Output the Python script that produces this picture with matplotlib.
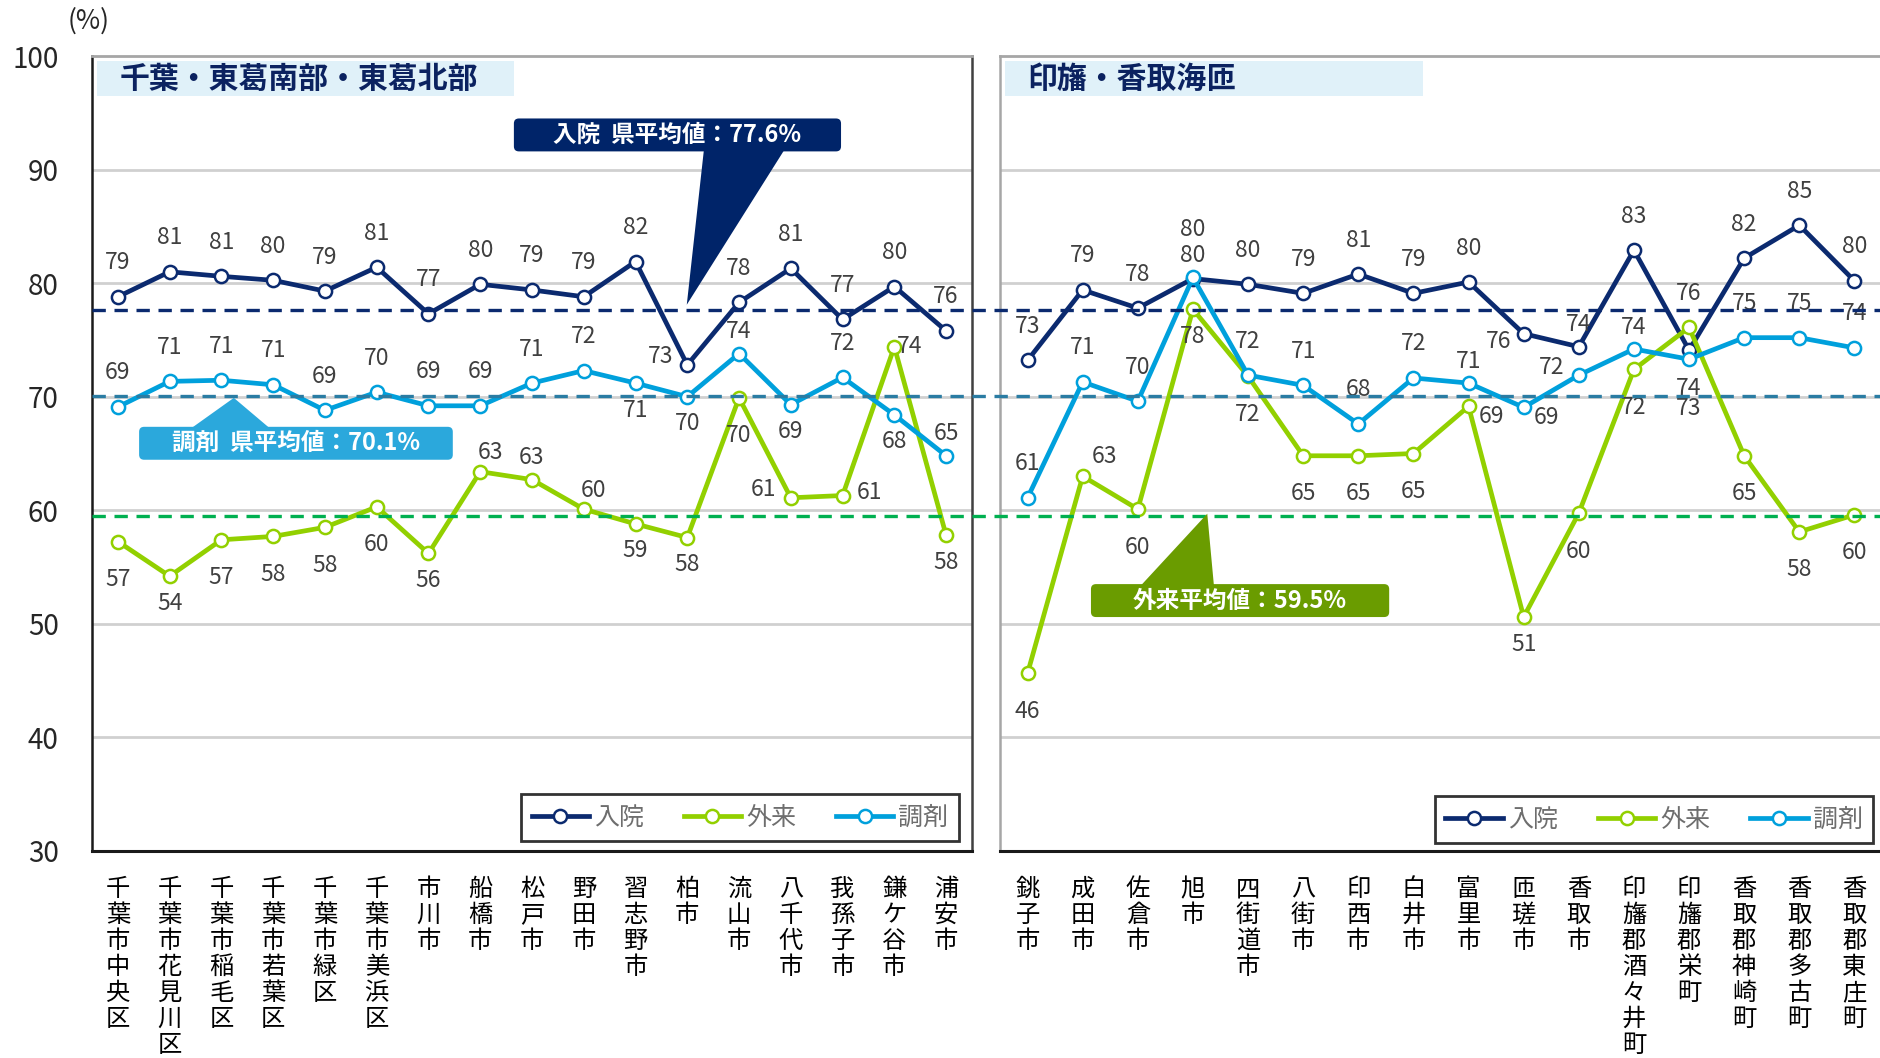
import matplotlib
matplotlib.use('Agg')
import matplotlib.pyplot as plt
from matplotlib.patches import FancyBboxPatch, Polygon, Rectangle
from matplotlib.lines import Line2D
import matplotlib.transforms as mtrans

plt.rcParams['font.family'] = ['Noto Sans CJK JP', 'DejaVu Sans']

# ---------------- data ----------------
left_title = '千葉・東葛南部・東葛北部'
right_title = '印旛・香取海匝'

left_cats = ['千葉市中央区', '千葉市花見川区', '千葉市稲毛区', '千葉市若葉区', '千葉市緑区',
             '千葉市美浜区', '市川市', '船橋市', '松戸市', '野田市', '習志野市', '柏市',
             '流山市', '八千代市', '我孫子市', '鎌ケ谷市', '浦安市']
right_cats = ['銚子市', '成田市', '佐倉市', '旭市', '四街道市', '八街市', '印西市', '白井市',
              '富里市', '匝瑳市', '香取市', '印旛郡酒々井町', '印旛郡栄町', '香取郡神崎町',
              '香取郡多古町', '香取郡東庄町']

left_nyuin = [78.8, 81.0, 80.6, 80.25, 79.3, 81.4, 77.3, 79.9, 79.4, 78.8, 81.9, 72.8,
              78.3, 81.3, 76.8, 79.7, 75.8]
left_gairai = [57.25, 54.2, 57.4, 57.7, 58.5, 60.3, 56.2, 63.4, 62.7, 60.1, 58.8, 57.6,
               69.9, 61.1, 61.3, 74.4, 57.8]
left_chozai = [69.1, 71.35, 71.45, 71.05, 68.8, 70.4, 69.2, 69.2, 71.2, 72.3, 71.2, 70.0,
               73.8, 69.3, 71.7, 68.4, 64.8]

right_nyuin = [73.2, 79.4, 77.8, 80.4, 79.9, 79.1, 80.8, 79.1, 80.1, 75.55, 74.4, 82.9,
               74.1, 82.2, 85.1, 80.2]
right_gairai = [45.65, 63.0, 60.1, 77.7, 71.8, 64.8, 64.8, 65.0, 69.15, 50.6, 59.75, 72.4,
                76.1, 64.8, 58.1, 59.6]
right_chozai = [61.1, 71.3, 69.6, 80.5, 71.9, 71.0, 67.6, 71.65, 71.2, 69.06, 71.9, 74.2,
                73.3, 75.2, 75.2, 74.3]

avg_nyuin = 77.6
avg_chozai = 70.1
avg_gairai = 59.5

series_names = ['入院', '外来', '調剤']
y_ticks = [30, 40, 50, 60, 70, 80, 90, 100]

# label placement codes (style)
left_pos = {
    '入院': ['a'] * 11 + ['l'] + ['a'] * 5,
    '外来': ['b', 'bs', 'b', 'b', 'b', 'b', 'bs', 'ar2', 'as', 'ar2', 'bs', 'bs', 'b', 'l', 'r', 'r2', 'bs'],
    '調剤': ['a'] * 10 + ['bs', 'bs', 'as', 'bs', 'a', 'bs', 'as'],
}
right_pos = {
    '入院': ['a', 'a', 'a', 'aa', 'a', 'a', 'a', 'a', 'a', 'l2', 'as', 'a', 'b', 'a', 'a', 'a'],
    '外来': ['b', 'ar', 'b', 'bs', 'b', 'b', 'b', 'b', 'r3', 'bs', 'b', 'b', 'a', 'b', 'b', 'b'],
    '調剤': ['a', 'a', 'a', 'as', 'a', 'a', 'a', 'a', 'as', 'r3', 'l', 'as', 'bb', 'a', 'a', 'a'],
}
POS = {'a': (0, 34), 'as': (0, 22), 'aa': (0, 49), 'b': (0, -38), 'bs': (0, -27),
       'bb': (0, -49), 'l': (-27, 8), 'l2': (-25, -8), 'r': (27, 3), 'r2': (15, 0),
       'r3': (23, -10), 'ar': (22, 20), 'ar2': (10, 19)}

C_NYUIN = '#0B2A6F'
C_GAIRAI = '#92D000'
C_CHOZAI = '#00A0DC'
colors = {'入院': C_NYUIN, '外来': C_GAIRAI, '調剤': C_CHOZAI}

W, H = 1881, 1058
fig = plt.figure(figsize=(W / 100, H / 100), dpi=100)
ax1 = fig.add_axes([92 / W, 1 - 851 / H, 880 / W, 795 / H])
ax2 = fig.add_axes([1000 / W, 1 - 851 / H, 882 / W, 795 / H])


def draw_panel(ax, cats, data, pos, title, title_box_w):
    n = len(cats)
    ax.set_xlim(-0.5, n - 0.5)
    ax.set_ylim(30, 100)
    ax.set_yticks(y_ticks)
    for y in [40, 50, 60, 70, 80, 90]:
        ax.axhline(y, color='#D0D0D0', lw=2.0, zorder=0)
    handles = []
    for name in series_names:
        vals = data[name]
        ln, = ax.plot(range(n), vals, color=colors[name], lw=3.4, marker='o', ms=9.5,
                      mfc='white', mec=colors[name], mew=1.8, zorder=3, label=name,
                      solid_joinstyle='round')
        handles.append(ln)
        for i, v in enumerate(vals):
            dx, dy = POS[pos[name][i]]
            ax.annotate(f'{v:.0f}', (i, v), xytext=(dx, dy), textcoords='offset pixels',
                        ha='center', va='center', fontsize=16.5, color='#404040', zorder=5)
    ax.set_xticks(range(n))
    ax.set_xticklabels(['\n'.join(c) for c in cats], fontsize=17.5, color='black',
                       va='top', linespacing=1.0)
    ax.tick_params(axis='x', length=0, pad=18)
    ax.tick_params(axis='y', length=0)
    # title box
    ax.add_patch(Rectangle((0.006, 0.950), title_box_w, 0.044, transform=ax.transAxes,
                           facecolor='#E0F1F9', edgecolor='none', zorder=1))
    ax.text(0.031, 0.971, title, transform=ax.transAxes, fontsize=21.5, fontweight='bold',
            color='#0B2260', ha='left', va='center', zorder=2)
    return handles


data_left = {'入院': left_nyuin, '外来': left_gairai, '調剤': left_chozai}
data_right = {'入院': right_nyuin, '外来': right_gairai, '調剤': right_chozai}
h1 = draw_panel(ax1, left_cats, data_left, left_pos, left_title, 0.474)
h2 = draw_panel(ax2, right_cats, data_right, right_pos, right_title, 0.474)

ax1.set_yticklabels([str(t) for t in y_ticks], fontsize=20, color='#262626')
ax1.tick_params(axis='y', pad=24)
ax2.set_yticklabels([])

for ax in (ax1, ax2):
    ax.spines['bottom'].set_color('#1A1A1A')
    ax.spines['bottom'].set_linewidth(2.2)
    ax.spines['top'].set_color('#A6A6A6')
    ax.spines['top'].set_linewidth(2.0)
ax1.spines['left'].set_color('#1A1A1A')
ax1.spines['left'].set_linewidth(1.8)
ax1.spines['right'].set_color('#404040')
ax1.spines['right'].set_linewidth(1.8)
ax2.spines['left'].set_color('#A6A6A6')
ax2.spines['left'].set_linewidth(1.8)
ax2.spines['right'].set_visible(False)

# average dashed lines across whole figure
tr = mtrans.blended_transform_factory(fig.transFigure, ax1.transData)
for val, col in [(avg_nyuin, '#0B2A6F'), (avg_chozai, '#2A7CA3'), (avg_gairai, '#00B050')]:
    fig.add_artist(Line2D([92 / W, 1.0], [val, val], transform=tr, color=col, lw=2.4,
                          dashes=(4, 2.6), zorder=4))

# legends
for ax, h, bb in [(ax1, h1, (0.4875, 0.012, 0.4975, 0.067)),
                  (ax2, h2, (0.493, 0.010, 0.497, 0.066))]:
    leg = ax.legend(handles=h, loc='lower left', bbox_to_anchor=bb, mode='expand', ncol=3,
                    fontsize=18, frameon=True, fancybox=False, handlelength=2.3,
                    handletextpad=0.2, columnspacing=0.6, borderaxespad=0, borderpad=0.42)
    leg.get_frame().set_edgecolor('black')
    leg.get_frame().set_linewidth(2.0)
    for t in leg.get_texts():
        t.set_color('#6E6E6E')
    leg.set_zorder(6)


# callouts (drawn in display pixels)
def callout(ax, box, tri, color, text, fs=17):
    x0, y0 = ax.transData.transform((box[0], box[2]))
    x1, y1 = ax.transData.transform((box[1], box[3]))
    bx, by = min(x0, x1), min(y0, y1)
    bw, bh = abs(x1 - x0), abs(y1 - y0)
    p = FancyBboxPatch((bx, by), bw, bh, boxstyle='round,pad=0,rounding_size=5',
                       transform=mtrans.IdentityTransform(), facecolor=color,
                       edgecolor='none', zorder=7)
    fig.add_artist(p)
    pts = [ax.transData.transform(pt) for pt in tri]
    fig.add_artist(Polygon(pts, closed=True, transform=mtrans.IdentityTransform(),
                           facecolor=color, edgecolor='none', zorder=7))
    fig.text((bx + bw / 2) / W, (by + bh / 2) / H, text, ha='center', va='center',
             fontsize=fs, fontweight='bold', color='white', zorder=8)


callout(ax1, (7.65, 13.97, 91.6, 94.5),
        [(11.32, 91.7), (12.87, 91.7), (10.99, avg_nyuin + 0.5)],
        '#002469', '入院  県平均値：77.6%')
callout(ax1, (0.41, 6.47, 64.45, 67.35),
        [(1.41, 67.2), (2.94, 67.2), (2.24, avg_chozai - 0.2)],
        '#2BA8DC', '調剤  県平均値：70.1%')
callout(ax2, (1.15, 6.56, 50.6, 53.5),
        [(2.06, 53.4), (3.38, 53.4), (3.26, avg_gairai + 0.2)],
        '#6A9C00', '外来平均値：59.5%')

fig.text(89 / W, 1 - 21 / H, '(%)', ha='center', va='center', fontsize=19, color='#262626')

fig.savefig('out.png', dpi=100)
